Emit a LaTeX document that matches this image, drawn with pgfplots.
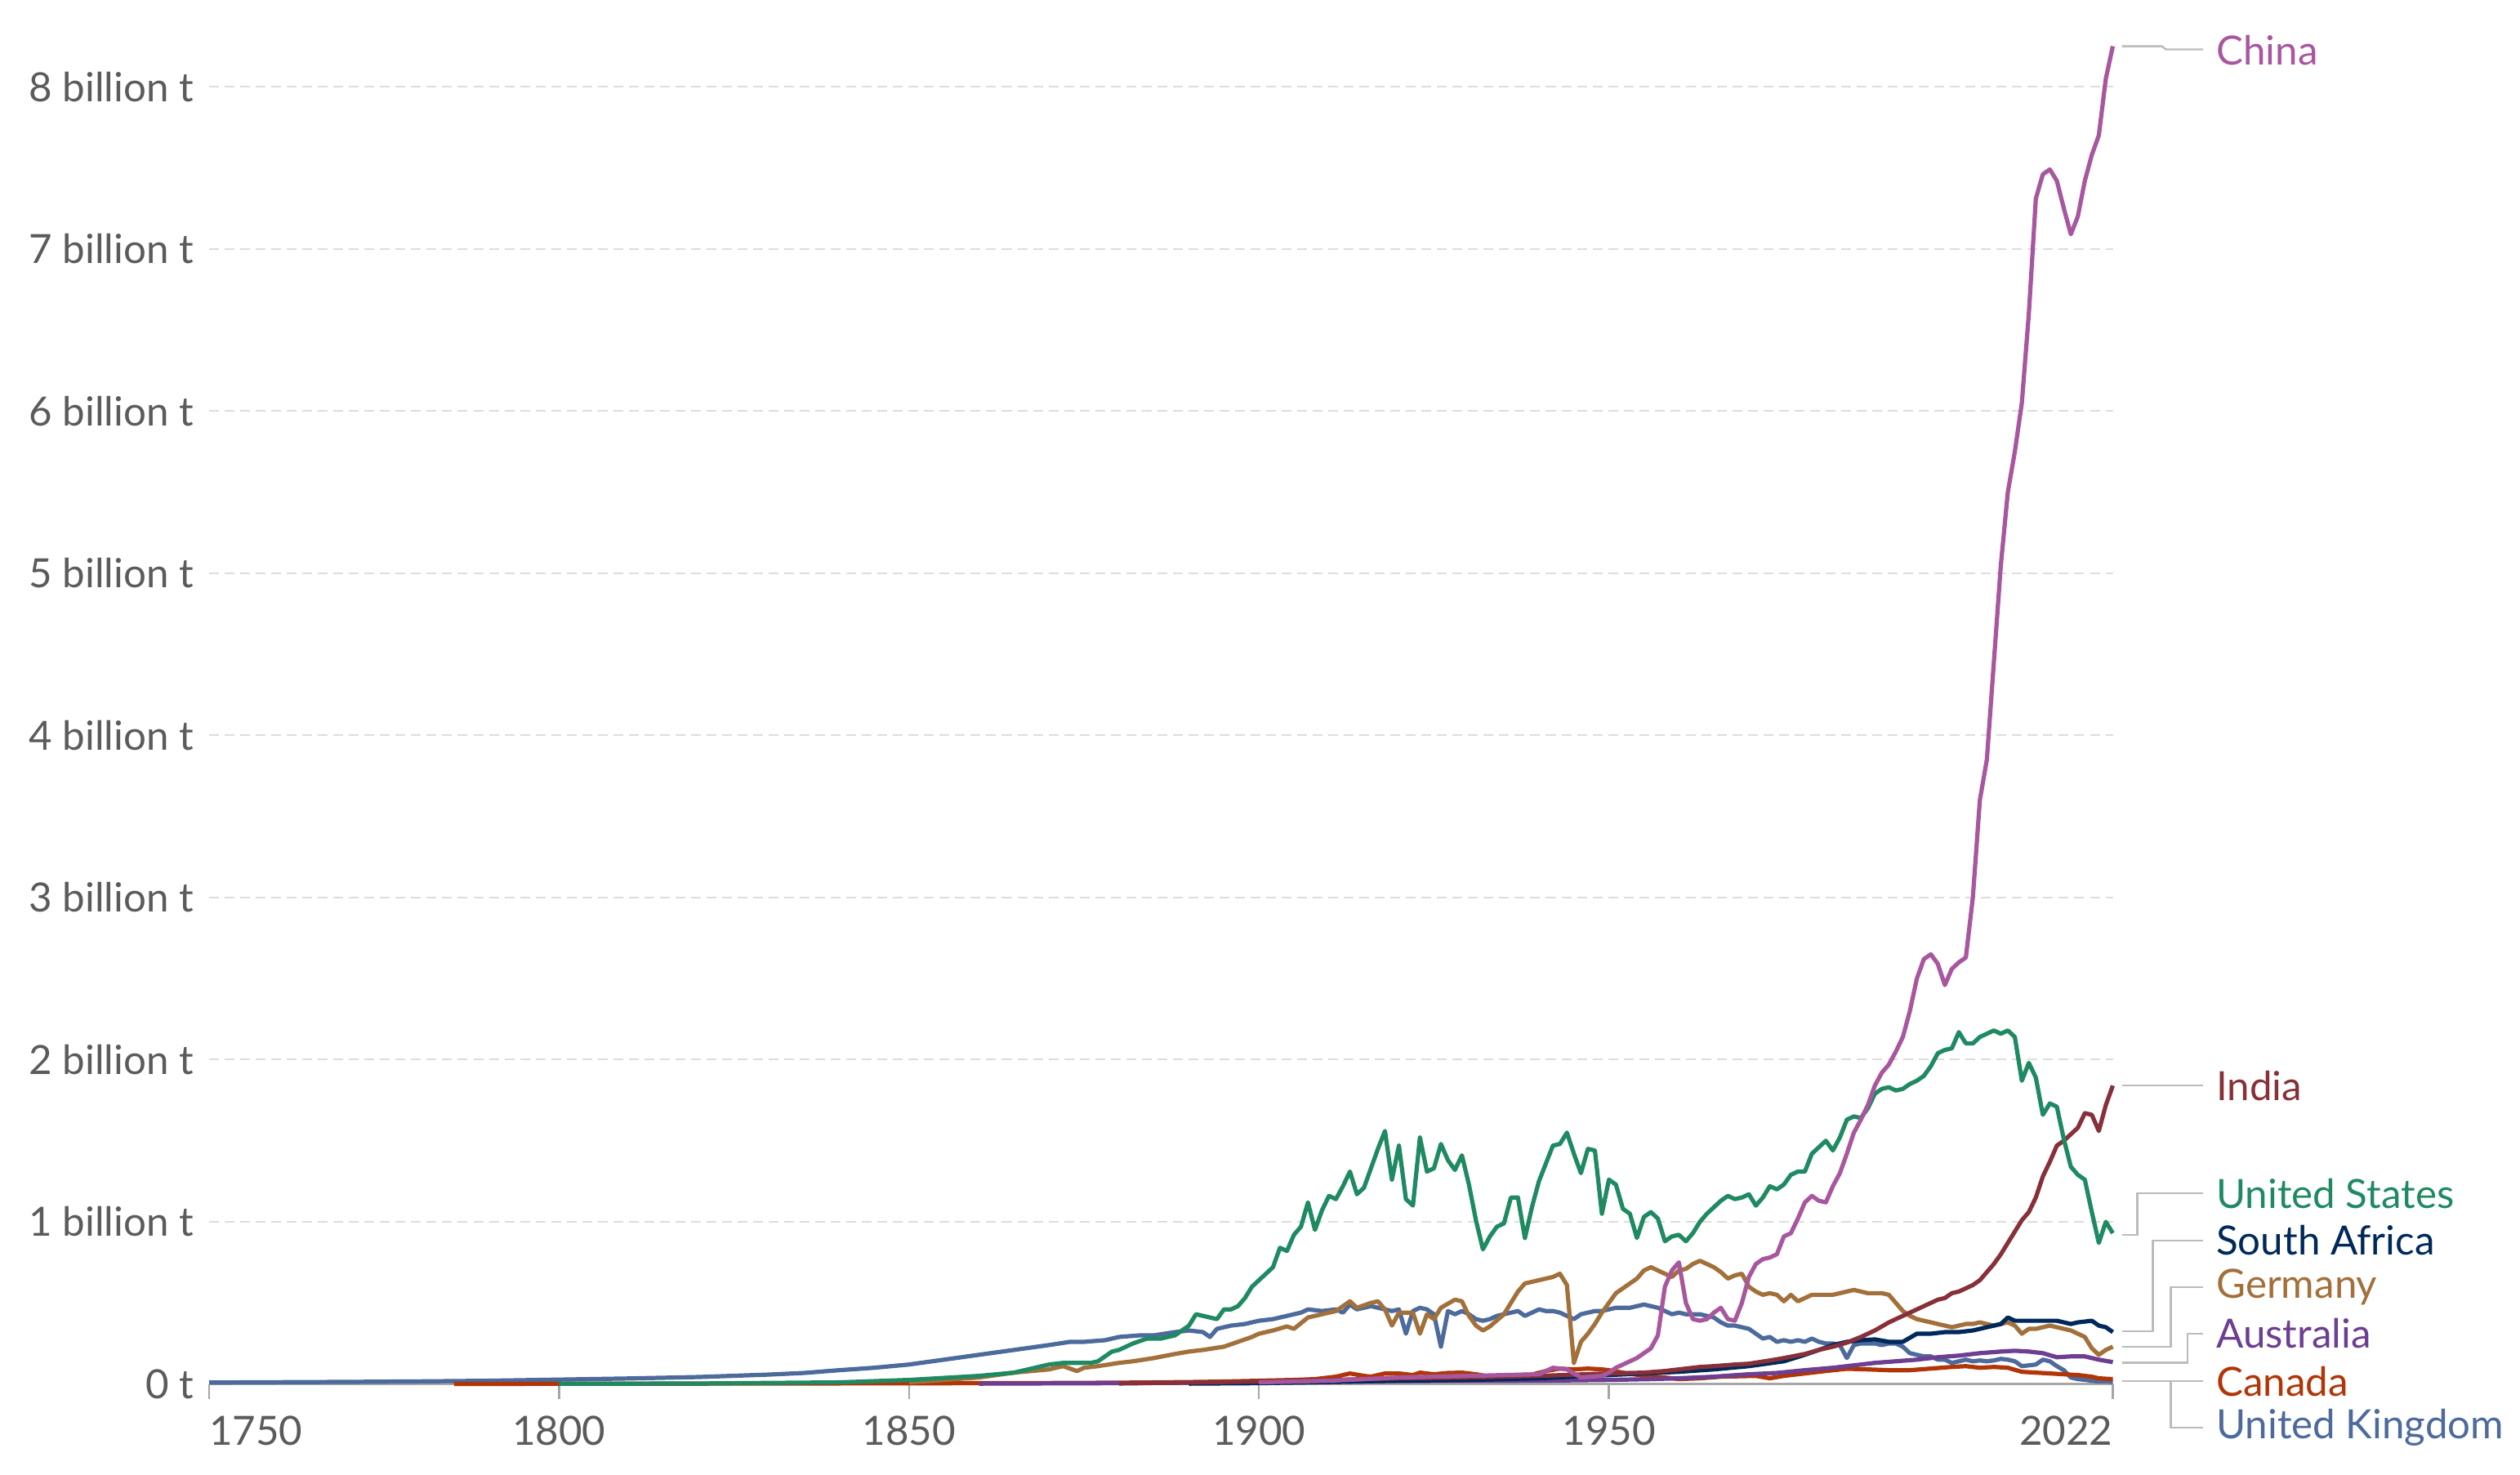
\documentclass[border=0pt]{standalone}
\usepackage{pgfplots}
\pgfplotsset{compat=1.18}
\usepackage{fontspec}
\setmainfont{Lato}
\definecolor{cChina}{HTML}{A8579F}
\definecolor{cIndia}{HTML}{883039}
\definecolor{cUS}{HTML}{1F8A62}
\definecolor{cSA}{HTML}{00295B}
\definecolor{cGer}{HTML}{A2703A}
\definecolor{cAus}{HTML}{6D3E91}
\definecolor{cCan}{HTML}{B13507}
\definecolor{cUK}{HTML}{4C6A9C}
\definecolor{tickgray}{HTML}{5B5B5B}
\definecolor{gridgray}{HTML}{DDDDDD}
\definecolor{conngray}{HTML}{BBBBBB}
\begin{document}
\begin{tikzpicture}
\begin{axis}[
  scale only axis, width=581.75pt, height=423pt,
  xmin=1750, xmax=2022, ymin=0, ymax=8.535,
  clip=false,
  axis lines*=left,
  y axis line style={draw=none},
  x axis line style={color=gray!70, line width=0.6pt},
  ytick={0,1,2,3,4,5,6,7,8},
  yticklabels={0 t,1 billion t,2 billion t,3 billion t,4 billion t,5 billion t,6 billion t,7 billion t,8 billion t},
  ytick style={draw=none},
  ymajorgrids=true,
  grid style={dash pattern=on 3pt off 1.75pt, color=gridgray, line width=0.5pt},
  yticklabel style={anchor=east, inner sep=0pt, xshift=0pt, font=\fontsize{12.3pt}{14pt}\selectfont, text=tickgray},
  xtick={1750,1800,1850,1900,1950,2022},
  xticklabels={\makebox[0pt][l]{1750},1800,1850,1900,1950,\makebox[0pt][r]{2022}},
  xticklabel style={anchor=north, inner sep=0pt, yshift=-5pt, font=\fontsize{12.3pt}{14pt}\selectfont, text=tickgray},
  xtick style={color=gray!70, line width=0.6pt},
  tick align=outside,
  major tick length=4.5pt,
  every axis plot/.append style={line width=1.3pt, line join=round},
]
% United Kingdom
\addplot[cUK] coordinates {
(1750,0.009)(1760,0.011)(1770,0.013)(1780,0.016)(1790,0.020)(1800,0.027)(1810,0.034)(1820,0.043)(1830,0.058)(1835,0.068)(1840,0.085)(1845,0.10)(1850,0.12)(1855,0.15)(1860,0.18)(1865,0.21)(1870,0.24)(1873,0.26)(1875,0.26)(1878,0.27)(1880,0.29)(1883,0.30)(1885,0.30)(1888,0.32)(1890,0.33)(1892,0.32)(1893,0.29)(1894,0.34)(1896,0.36)(1898,0.37)(1900,0.39)(1902,0.40)(1904,0.42)(1906,0.44)(1907,0.46)(1909,0.45)(1911,0.46)(1912,0.44)(1913,0.49)(1914,0.46)(1916,0.48)(1917,0.47)(1918,0.46)(1919,0.45)(1920,0.46)(1921,0.31)(1922,0.45)(1923,0.47)(1924,0.46)(1925,0.43)(1926,0.23)(1927,0.45)(1928,0.43)(1929,0.45)(1930,0.43)(1931,0.40)(1932,0.39)(1933,0.40)(1934,0.42)(1935,0.43)(1936,0.44)(1937,0.45)(1938,0.42)(1939,0.44)(1940,0.46)(1941,0.45)(1942,0.45)(1943,0.44)(1944,0.42)(1945,0.40)(1946,0.43)(1947,0.44)(1948,0.45)(1949,0.45)(1950,0.46)(1951,0.47)(1952,0.47)(1953,0.47)(1954,0.48)(1955,0.49)(1956,0.48)(1957,0.47)(1958,0.45)(1959,0.43)(1960,0.44)(1961,0.43)(1962,0.43)(1963,0.43)(1964,0.42)(1965,0.41)(1966,0.38)(1967,0.36)(1968,0.36)(1969,0.35)(1970,0.34)(1971,0.31)(1972,0.28)(1973,0.29)(1974,0.26)(1975,0.27)(1976,0.26)(1977,0.27)(1978,0.26)(1979,0.28)(1980,0.26)(1981,0.25)(1982,0.25)(1983,0.24)(1984,0.16)(1985,0.24)(1986,0.25)(1987,0.25)(1988,0.25)(1989,0.24)(1990,0.25)(1991,0.25)(1992,0.23)(1993,0.19)(1994,0.18)(1995,0.17)(1996,0.17)(1997,0.15)(1998,0.15)(1999,0.13)(2000,0.14)(2001,0.15)(2002,0.14)(2003,0.145)(2004,0.14)(2005,0.145)(2006,0.155)(2007,0.15)(2008,0.14)(2009,0.11)(2010,0.115)(2011,0.12)(2012,0.15)(2013,0.14)(2014,0.11)(2015,0.085)(2016,0.04)(2017,0.03)(2018,0.026)(2019,0.02)(2020,0.015)(2021,0.017)(2022,0.012)
};
% Canada
\addplot[cCan] coordinates {
(1785,0.0005)(1800,0.001)(1820,0.002)(1850,0.004)(1870,0.006)(1880,0.008)(1890,0.012)(1895,0.015)(1900,0.02)(1905,0.025)(1908,0.03)(1911,0.045)(1913,0.065)(1915,0.05)(1916,0.045)(1918,0.065)(1920,0.065)(1922,0.055)(1923,0.07)(1925,0.06)(1927,0.068)(1929,0.07)(1931,0.06)(1933,0.045)(1935,0.05)(1937,0.055)(1939,0.058)(1941,0.08)(1943,0.095)(1945,0.09)(1947,0.095)(1949,0.09)(1950,0.085)(1952,0.07)(1955,0.05)(1958,0.04)(1960,0.03)(1963,0.035)(1966,0.045)(1969,0.048)(1971,0.05)(1973,0.035)(1975,0.05)(1978,0.065)(1981,0.08)(1984,0.094)(1987,0.09)(1990,0.085)(1993,0.085)(1996,0.095)(1999,0.105)(2001,0.11)(2003,0.10)(2005,0.105)(2007,0.10)(2009,0.075)(2011,0.07)(2013,0.065)(2015,0.06)(2017,0.055)(2019,0.045)(2020,0.035)(2022,0.03)
};
% Australia
\addplot[cAus] coordinates {
(1860,0.002)(1880,0.005)(1900,0.01)(1920,0.018)(1940,0.02)(1950,0.025)(1956,0.03)(1960,0.035)(1965,0.045)(1970,0.06)(1974,0.068)(1978,0.085)(1982,0.10)(1984,0.11)(1988,0.13)(1991,0.14)(1994,0.15)(1997,0.165)(2000,0.175)(2003,0.19)(2006,0.20)(2008,0.205)(2010,0.20)(2012,0.19)(2014,0.165)(2016,0.17)(2018,0.17)(2020,0.15)(2022,0.135)
};
% Germany
\addplot[cGer] coordinates {
(1850,0.01)(1855,0.025)(1860,0.04)(1865,0.07)(1870,0.09)(1872,0.11)(1874,0.08)(1875,0.10)(1877,0.11)(1880,0.13)(1882,0.14)(1885,0.16)(1888,0.185)(1890,0.20)(1892,0.21)(1895,0.23)(1897,0.26)(1899,0.29)(1900,0.31)(1902,0.33)(1904,0.355)(1905,0.34)(1907,0.41)(1909,0.43)(1911,0.45)(1913,0.51)(1914,0.47)(1916,0.50)(1917,0.51)(1918,0.46)(1919,0.36)(1920,0.44)(1922,0.44)(1923,0.31)(1924,0.43)(1925,0.40)(1926,0.47)(1928,0.52)(1929,0.51)(1930,0.42)(1931,0.36)(1932,0.33)(1933,0.355)(1935,0.43)(1936,0.50)(1937,0.57)(1938,0.62)(1940,0.64)(1942,0.66)(1943,0.68)(1944,0.61)(1945,0.13)(1946,0.26)(1947,0.31)(1948,0.37)(1949,0.44)(1950,0.50)(1951,0.56)(1952,0.59)(1953,0.62)(1954,0.65)(1955,0.70)(1956,0.72)(1957,0.70)(1958,0.68)(1959,0.66)(1960,0.70)(1961,0.71)(1962,0.74)(1963,0.76)(1964,0.74)(1965,0.72)(1966,0.69)(1967,0.65)(1968,0.67)(1969,0.68)(1970,0.60)(1971,0.57)(1972,0.55)(1973,0.56)(1974,0.55)(1975,0.51)(1976,0.55)(1977,0.51)(1978,0.53)(1979,0.55)(1980,0.55)(1981,0.55)(1982,0.55)(1983,0.56)(1984,0.57)(1985,0.58)(1986,0.57)(1987,0.56)(1988,0.56)(1989,0.56)(1990,0.55)(1991,0.50)(1992,0.45)(1993,0.42)(1994,0.40)(1995,0.39)(1996,0.38)(1997,0.37)(1998,0.36)(1999,0.35)(2000,0.36)(2001,0.37)(2002,0.37)(2003,0.38)(2004,0.37)(2005,0.36)(2006,0.37)(2007,0.38)(2008,0.36)(2009,0.31)(2010,0.34)(2011,0.34)(2012,0.35)(2013,0.36)(2014,0.35)(2015,0.34)(2016,0.33)(2017,0.31)(2018,0.29)(2019,0.22)(2020,0.18)(2021,0.21)(2022,0.23)
};
% South Africa
\addplot[cSA] coordinates {
(1890,0.002)(1900,0.005)(1910,0.012)(1920,0.02)(1930,0.025)(1940,0.035)(1950,0.055)(1955,0.065)(1960,0.075)(1965,0.09)(1970,0.11)(1975,0.14)(1978,0.18)(1980,0.21)(1982,0.24)(1984,0.26)(1986,0.27)(1988,0.275)(1990,0.26)(1992,0.26)(1994,0.31)(1996,0.31)(1998,0.32)(2000,0.32)(2002,0.33)(2004,0.35)(2006,0.37)(2007,0.41)(2008,0.39)(2010,0.39)(2012,0.39)(2014,0.39)(2016,0.37)(2017,0.38)(2019,0.39)(2020,0.36)(2021,0.35)(2022,0.32)
};
% India
\addplot[cIndia] coordinates {
(1880,0.003)(1900,0.015)(1920,0.035)(1930,0.04)(1940,0.05)(1950,0.065)(1955,0.07)(1958,0.08)(1960,0.09)(1963,0.105)(1965,0.11)(1968,0.12)(1970,0.125)(1973,0.145)(1975,0.16)(1978,0.185)(1980,0.21)(1982,0.23)(1984,0.255)(1986,0.29)(1988,0.33)(1990,0.38)(1992,0.42)(1994,0.46)(1996,0.50)(1997,0.52)(1998,0.53)(1999,0.56)(2000,0.57)(2001,0.59)(2002,0.61)(2003,0.64)(2004,0.69)(2005,0.74)(2006,0.80)(2007,0.87)(2008,0.94)(2009,1.01)(2010,1.06)(2011,1.15)(2012,1.28)(2013,1.37)(2014,1.47)(2015,1.50)(2016,1.54)(2017,1.58)(2018,1.67)(2019,1.66)(2020,1.56)(2021,1.72)(2022,1.84)
};
% United States
\addplot[cUS] coordinates {
(1800,0.001)(1820,0.003)(1840,0.01)(1850,0.025)(1860,0.05)(1865,0.07)(1868,0.10)(1870,0.12)(1872,0.13)(1874,0.13)(1876,0.13)(1877,0.14)(1879,0.20)(1880,0.21)(1882,0.25)(1884,0.28)(1886,0.28)(1888,0.30)(1890,0.36)(1891,0.43)(1892,0.42)(1893,0.41)(1894,0.40)(1895,0.46)(1896,0.46)(1897,0.48)(1898,0.53)(1899,0.60)(1900,0.64)(1901,0.68)(1902,0.72)(1903,0.84)(1904,0.82)(1905,0.92)(1906,0.97)(1907,1.12)(1908,0.95)(1909,1.07)(1910,1.16)(1911,1.14)(1912,1.22)(1913,1.31)(1914,1.17)(1915,1.21)(1916,1.33)(1917,1.45)(1918,1.56)(1919,1.26)(1920,1.47)(1921,1.14)(1922,1.10)(1923,1.52)(1924,1.31)(1925,1.33)(1926,1.48)(1927,1.38)(1928,1.32)(1929,1.41)(1930,1.23)(1931,1.01)(1932,0.83)(1933,0.91)(1934,0.97)(1935,0.99)(1936,1.15)(1937,1.15)(1938,0.90)(1939,1.09)(1940,1.25)(1941,1.36)(1942,1.47)(1943,1.48)(1944,1.55)(1945,1.42)(1946,1.30)(1947,1.45)(1948,1.44)(1949,1.05)(1950,1.26)(1951,1.23)(1952,1.08)(1953,1.05)(1954,0.90)(1955,1.03)(1956,1.06)(1957,1.02)(1958,0.88)(1959,0.91)(1960,0.92)(1961,0.88)(1962,0.93)(1963,1.00)(1964,1.05)(1965,1.09)(1966,1.13)(1967,1.16)(1968,1.14)(1969,1.15)(1970,1.17)(1971,1.10)(1972,1.15)(1973,1.22)(1974,1.20)(1975,1.23)(1976,1.29)(1977,1.31)(1978,1.31)(1979,1.42)(1980,1.46)(1981,1.50)(1982,1.44)(1983,1.52)(1984,1.63)(1985,1.65)(1986,1.64)(1987,1.70)(1988,1.79)(1989,1.82)(1990,1.83)(1991,1.81)(1992,1.82)(1993,1.85)(1994,1.87)(1995,1.90)(1996,1.96)(1997,2.04)(1998,2.06)(1999,2.07)(2000,2.17)(2001,2.10)(2002,2.10)(2003,2.14)(2004,2.16)(2005,2.18)(2006,2.16)(2007,2.18)(2008,2.14)(2009,1.87)(2010,1.98)(2011,1.89)(2012,1.66)(2013,1.73)(2014,1.71)(2015,1.51)(2016,1.34)(2017,1.29)(2018,1.26)(2019,1.06)(2020,0.87)(2021,1.00)(2022,0.93)
};
% China
\addplot[cChina] coordinates {
(1900,0.01)(1910,0.02)(1920,0.04)(1930,0.05)(1940,0.06)(1942,0.10)(1944,0.09)(1946,0.04)(1949,0.05)(1950,0.07)(1951,0.10)(1952,0.12)(1953,0.14)(1954,0.16)(1955,0.19)(1956,0.22)(1957,0.30)(1958,0.60)(1959,0.70)(1960,0.75)(1961,0.50)(1962,0.40)(1963,0.39)(1964,0.40)(1965,0.44)(1966,0.47)(1967,0.40)(1968,0.39)(1969,0.50)(1970,0.66)(1971,0.74)(1972,0.77)(1973,0.78)(1974,0.80)(1975,0.91)(1976,0.93)(1977,1.02)(1978,1.12)(1979,1.16)(1980,1.13)(1981,1.12)(1982,1.22)(1983,1.30)(1984,1.42)(1985,1.55)(1986,1.63)(1987,1.72)(1988,1.84)(1989,1.92)(1990,1.97)(1991,2.05)(1992,2.14)(1993,2.30)(1994,2.50)(1995,2.62)(1996,2.65)(1997,2.59)(1998,2.46)(1999,2.56)(2000,2.60)(2001,2.63)(2002,3.00)(2003,3.60)(2004,3.85)(2005,4.45)(2006,5.05)(2007,5.50)(2008,5.75)(2009,6.05)(2010,6.60)(2011,7.31)(2012,7.46)(2013,7.49)(2014,7.42)(2015,7.25)(2016,7.09)(2017,7.20)(2018,7.42)(2019,7.58)(2020,7.70)(2021,8.05)(2022,8.25)
};
% connectors
\draw[conngray, line width=0.6pt] (axis cs:2023.3,8.25) -- (axis cs:2029,8.25) -- (axis cs:2029.6,8.23) -- (axis cs:2034.9,8.23);
\draw[conngray, line width=0.6pt] (axis cs:2023.3,1.84) -- (axis cs:2034.9,1.84);
\draw[conngray, line width=0.6pt] (axis cs:2023.3,0.918) -- (axis cs:2025.5,0.918) -- (axis cs:2025.5,1.176) -- (axis cs:2034.9,1.176);
\draw[conngray, line width=0.6pt] (axis cs:2023.3,0.325) -- (axis cs:2027.7,0.325) -- (axis cs:2027.7,0.884) -- (axis cs:2034.9,0.884);
\draw[conngray, line width=0.6pt] (axis cs:2023.3,0.229) -- (axis cs:2030.3,0.229) -- (axis cs:2030.3,0.597) -- (axis cs:2034.9,0.597);
\draw[conngray, line width=0.6pt] (axis cs:2023.3,0.132) -- (axis cs:2032.7,0.132) -- (axis cs:2032.7,0.310) -- (axis cs:2034.9,0.310);
\draw[conngray, line width=0.6pt] (axis cs:2023.3,0.017) -- (axis cs:2034.9,0.017);
\draw[conngray, line width=0.6pt] (axis cs:2030.3,0.017) -- (axis cs:2030.3,-0.270) -- (axis cs:2034.9,-0.270);
% labels
\tikzset{lab/.style={anchor=west, inner sep=0pt, font=\fontsize{12.3pt}{14pt}\selectfont}}
\node[lab, text=cChina] at (axis cs:2036.7,8.225) {China};
\node[lab, text=cIndia] at (axis cs:2036.7,1.84) {India};
\node[lab, text=cUS] at (axis cs:2036.7,1.176) {United States};
\node[lab, text=cSA] at (axis cs:2036.7,0.884) {South Africa};
\node[lab, text=cGer] at (axis cs:2036.7,0.597) {Germany};
\node[lab, text=cAus] at (axis cs:2036.7,0.310) {Australia};
\node[lab, text=cCan] at (axis cs:2036.7,0.017) {Canada};
\node[lab, text=cUK] at (axis cs:2036.7,-0.270) {United Kingdom};
% bounding box
\path (axis cs:1720.12,-0.56) rectangle (axis cs:2080.18,8.535);
\end{axis}
\end{tikzpicture}
\end{document}
